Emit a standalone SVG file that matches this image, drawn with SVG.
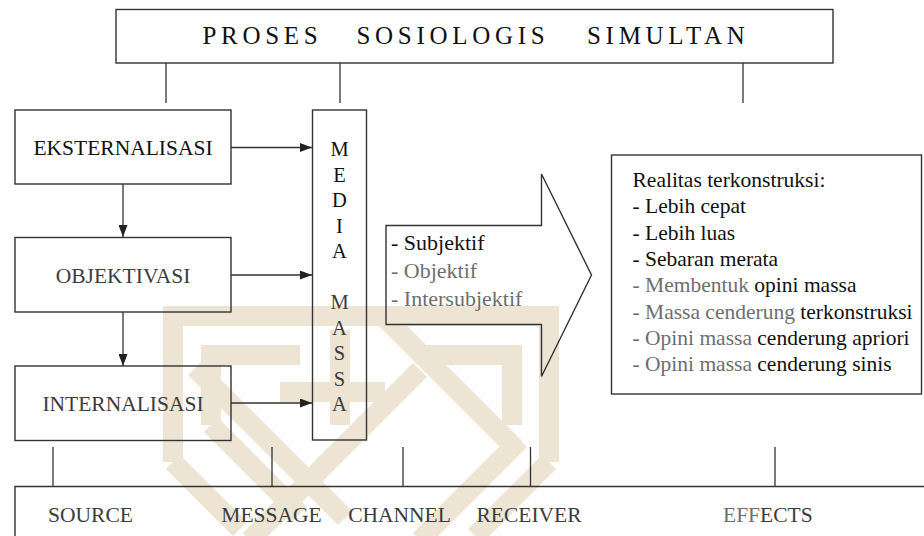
<svg xmlns="http://www.w3.org/2000/svg" width="924" height="536" viewBox="0 0 924 536">
<style>
.bx{fill:none;stroke:#333;stroke-width:1.4}
.ln{fill:none;stroke:#333;stroke-width:1.3}
.t{font-family:'Liberation Serif','Times New Roman',serif;font-size:21.5px;fill:#111}
.c{text-anchor:middle}
.g{fill:#6e6e6e}
.d{fill:#3c3c3c}
.ttl{font-family:'Liberation Serif','Times New Roman',serif;font-size:25px;letter-spacing:4.7px;fill:#111}
.wm{fill:none;stroke:#ede4d4;stroke-width:20;stroke-linejoin:miter}
</style>
<defs>
<marker id="ah" markerUnits="userSpaceOnUse" markerWidth="12" markerHeight="9" refX="12" refY="4.5" orient="auto">
<path d="M0,0 L12,4.5 L0,9 z" fill="#222"/>
</marker>
</defs>
<rect width="924" height="536" fill="#fff"/>
<g id="watermark" class="wm">
<path d="M173,462 V316 H549 V462"/>
<path d="M211,425 V355 H300"/>
<path d="M512,425 V355 H420"/>
<path d="M195,368 L345,518"/>
<path d="M385,318 L515,448"/>
<path d="M250,540 L420,370"/>
<path d="M420,540 L520,440"/>
<path d="M280,392 H385"/>
<path d="M340,330 V425"/>
<path d="M173,462 L240,529"/>
<path d="M549,462 L475,536"/>
<path d="M211,425 L300,514"/>
</g>
<g id="title">
<rect class="bx" x="116" y="9.5" width="717" height="53.5"/>
<text class="ttl" x="202.5" y="44">PROSES</text>
<text class="ttl" x="356.5" y="44">SOSIOLOGIS</text>
<text class="ttl" x="587" y="44">SIMULTAN</text>
</g>
<g id="eksternalisasi">
<rect class="bx" x="15" y="110" width="216" height="74"/>
<text class="t c" x="123" y="155">EKSTERNALISASI</text>
</g>
<g id="objektivasi">
<rect class="bx" x="15" y="237.5" width="216" height="74.5"/>
<text class="t c d" x="123" y="282.5">OBJEKTIVASI</text>
</g>
<g id="internalisasi">
<rect class="bx" x="15" y="366" width="216" height="74.5"/>
<text class="t c d" x="123" y="411">INTERNALISASI</text>
</g>
<g id="media-massa">
<rect class="bx" x="312.5" y="110" width="54" height="330"/>
<g class="t c" style="font-size:20.5px">
<text x="339.5" y="156">M</text>
<text x="339.5" y="181.5">E</text>
<text x="339.5" y="207">D</text>
<text x="339.5" y="232.5">I</text>
<text x="339.5" y="258">A</text>
<text x="339.5" y="309" class="d">M</text>
<text x="339.5" y="334.5" class="d">A</text>
<text x="339.5" y="360" class="d">S</text>
<text x="339.5" y="385.5" class="d">S</text>
<text x="339.5" y="411" class="d">A</text>
</g>
</g>
<g id="konstruksi-arrow">
<path class="bx" d="M386,225.5 H541.5 V174 L591.5,275 L541.5,376.5 V324.5 H386 Z"/>
<text class="t" x="391" y="250" style="font-size:22px">- Subjektif</text>
<text class="t g" x="391" y="278" style="font-size:22px">- Objektif</text>
<text class="t g" x="391" y="306" style="font-size:22px">- Intersubjektif</text>
</g>
<g id="realitas">
<rect class="bx" x="611.5" y="155" width="310" height="239"/>
<text class="t" x="632.5" y="187">Realitas terkonstruksi:</text>
<text class="t" x="632.5" y="213.3">- Lebih cepat</text>
<text class="t" x="632.5" y="239.6">- Lebih luas</text>
<text class="t" x="632.5" y="265.9">- Sebaran merata</text>
<text class="t" x="632.5" y="292.2"><tspan class="g">- Membentuk</tspan> opini massa</text>
<text class="t" x="632.5" y="318.5"><tspan class="g">- Massa cenderung</tspan> terkonstruksi</text>
<text class="t" x="632.5" y="344.8"><tspan class="g">- Opini massa</tspan> cenderung apriori</text>
<text class="t" x="632.5" y="371.1"><tspan class="g">- Opini massa</tspan> cenderung sinis</text>
</g>
<g id="komunikasi">
<path class="bx" d="M15,537 V486.5 H925"/>
<text class="t c d" x="90.5" y="521.5">SOURCE</text>
<text class="t c d" x="271.5" y="521.5">MESSAGE</text>
<text class="t c d" x="399.5" y="521.5">CHANNEL</text>
<text class="t c d" x="529" y="521.5">RECEIVER</text>
<text class="t d" x="723" y="521.5"><tspan class="g">EFF</tspan>ECTS</text>
</g>
<g id="connectors" class="ln">
<path d="M166,63 V103"/>
<path d="M340,63 V103"/>
<path d="M743,63 V103"/>
<path d="M231,147.5 H312" marker-end="url(#ah)"/>
<path d="M231,275 H312" marker-end="url(#ah)"/>
<path d="M231,403 H312" marker-end="url(#ah)"/>
<path d="M123,184 V237" marker-end="url(#ah)"/>
<path d="M123,312 V366" marker-end="url(#ah)"/>
<path d="M53,447 V486.5"/>
<path d="M272,447 V486.5"/>
<path d="M403,447 V486.5"/>
<path d="M530.5,447 V486.5"/>
<path d="M775,447 V486.5"/>
</g>
</svg>
